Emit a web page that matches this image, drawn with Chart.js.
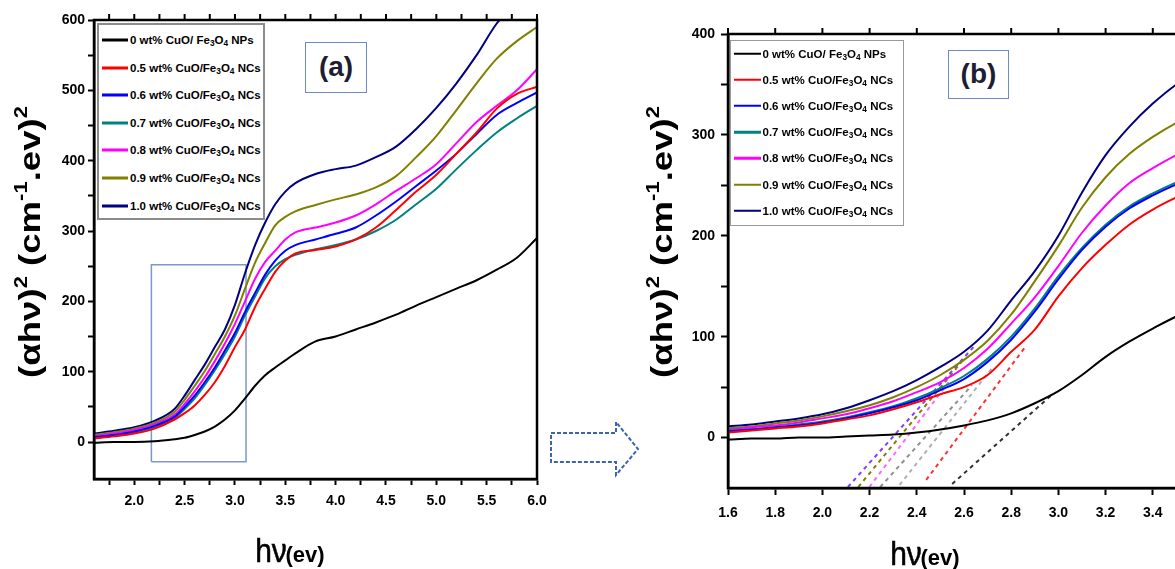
<!DOCTYPE html>
<html>
<head>
<meta charset="utf-8">
<script src="https://cdn.jsdelivr.net/npm/chart.js@4.4.0/dist/chart.umd.min.js"></script>
<style>
  body { margin: 0; width: 1175px; height: 569px; overflow: hidden; position: relative; background: #fff;
         font-family: "Liberation Sans", Arial, sans-serif; }
  canvas { position: absolute; top: 0; }
  .lg { position: absolute; box-sizing: border-box; background: #fff; }
  .row { position: absolute; left: 0; right: 0; height: 14px; }
  .row i { position: absolute; top: 50%; transform: translateY(-50%); }
  .row span { position: absolute; top: 0; line-height: 14px; font-weight: bold; white-space: nowrap; color: #000; }
  .row sub { font-size: 0.72em; vertical-align: -2px; line-height: 0; }
  .tag { position: absolute; box-sizing: border-box; border: 1.5px solid #6d8cc4; text-align: center;
         font-weight: bold; color: #1d1d33; background: #fff; }
  .yt { position: absolute; width: 400px; height: 40px; line-height: 40px; text-align: center; font-weight: bold;
        font-size: 30px; white-space: nowrap; transform: rotate(-90deg) scaleX(1.22); color: #000; }
  .yt sup { font-size: 0.6em; vertical-align: 0.75em; line-height: 0; }
  .xt { position: absolute; width: 200px; height: 40px; line-height: 40px; text-align: center; white-space: nowrap; color: #000; }
  .xt b { font-size: 22px; }
  .xt em { font-style: normal; font-size: 34px; display: inline-block; transform: scaleX(0.88); margin-right: -4px; -webkit-text-stroke: 0.6px #000; }
</style>
</head>
<body>
<canvas id="ca" width="560" height="569" style="left:0"></canvas>
<canvas id="cb" width="600" height="569" style="left:620px"></canvas>

<div class="yt" style="left:-170px; top:222px">(αhν)<sup>2</sup> (cm<sup>-1</sup>.ev)<sup>2</sup></div>
<div class="yt" style="left:462px; top:222px">(αhν)<sup>2</sup> (cm<sup>-1</sup>.ev)<sup>2</sup></div>
<div class="xt" style="left:189px; top:530px"><em>hν</em><b>(ev)</b></div>
<div class="xt" style="left:824px; top:533px"><em>hν</em><b>(ev)</b></div>
<div class="tag" style="left:305px; top:42px; width:62px; height:51px; font-size:28px; line-height:47px">(a)</div>
<div class="tag" style="left:948px; top:50px; width:61px; height:49px; font-size:28px; line-height:45px">(b)</div>

<svg width="1175" height="569" style="position:absolute; left:0; top:0; pointer-events:none">
  <path d="M551,433 L616,433 L616,422 L638,449 L616,475 L616,462 L551,462 Z"
        fill="none" stroke="#3b63b0" stroke-width="2" stroke-dasharray="4 2"/>
</svg>

<script>
// series names and colours (same order in both panels)
const seriesNames = [
  '0 wt% CuO/ Fe3O4 NPs',
  '0.5 wt% CuO/Fe3O4 NCs',
  '0.6 wt% CuO/Fe3O4 NCs',
  '0.7 wt% CuO/Fe3O4 NCs',
  '0.8 wt% CuO/Fe3O4 NCs',
  '0.9 wt% CuO/Fe3O4 NCs',
  '1.0 wt% CuO/Fe3O4 NCs'
];
const seriesColors = ['#000000', '#ff0000', '#0000ff', '#008080', '#ff00ff', '#808000', '#000080'];

// panel (a): full range
const xA = [1.6, 1.8, 2.0, 2.2, 2.4, 2.5, 2.6, 2.7, 2.8, 2.9, 3.0, 3.1, 3.2, 3.3, 3.4, 3.5, 3.6, 3.8, 4.0, 4.2, 4.4, 4.6, 4.8, 5.0, 5.2, 5.4, 5.6, 5.8, 6.0];
const blackA = [-1, 0, 0, 1, 4, 6, 10, 15, 22, 32, 45, 62, 80, 95, 106, 116, 126, 143, 150, 160, 170, 181, 194, 206, 218, 230, 245, 262, 290];
const redA = [5, 8, 12, 19, 32, 41, 52, 67, 85, 108, 135, 160, 192, 218, 242, 258, 268, 273, 278, 288, 305, 330, 356, 380, 410, 440, 474, 495, 505];
const blueA = [7, 10, 15, 23, 36, 50, 66, 85, 106, 130, 155, 185, 212, 238, 258, 272, 280, 288, 296, 305, 322, 342, 364, 386, 410, 438, 465, 482, 497];
const tealA = [6, 9, 14, 21, 34, 47, 62, 81, 102, 125, 150, 180, 207, 233, 250, 260, 266, 274, 280, 288, 300, 316, 338, 360, 388, 415, 440, 460, 478];
const magentaA = [8, 12, 17, 25, 39, 54, 72, 92, 115, 140, 168, 200, 232, 256, 272, 288, 298, 305, 312, 322, 338, 357, 375, 395, 425, 455, 478, 500, 530];
const oliveA = [10, 14, 19, 27, 43, 60, 80, 101, 125, 150, 180, 218, 255, 283, 308, 320, 328, 337, 345, 352, 362, 378, 405, 435, 472, 510, 545, 570, 590];
const navyA = [12, 16, 21, 30, 47, 66, 88, 110, 135, 160, 195, 240, 280, 312, 338, 356, 368, 381, 388, 393, 405, 420, 445, 475, 510, 550, 595, 625, 655];
// zoom rectangle drawn in panel (a)
const boxX = [2.17, 3.11];
const boxY = [-28, 252];

const xMajorA = [2.0, 2.5, 3.0, 3.5, 4.0, 4.5, 5.0, 5.5, 6.0];
const xMinorA = [1.75, 2.25, 2.75, 3.25, 3.75, 4.25, 4.75, 5.25, 5.75];
const yMajorA = [0, 100, 200, 300, 400, 500, 600];
const yMinorA = [50, 150, 250, 350, 450, 550];

// panel (b): zoom on the absorption edge
const xB = [1.6, 1.7, 1.8, 1.9, 2.0, 2.1, 2.2, 2.3, 2.4, 2.5, 2.6, 2.7, 2.8, 2.9, 3.0, 3.1, 3.2, 3.3, 3.4, 3.5, 3.6];
const blackB = [-2, -1, -1, 0, 0, 1, 2, 3, 5, 8, 12, 17, 24, 34, 46, 62, 80, 95, 108, 120, 129];
const redB = [5, 7, 9, 11, 14, 18, 22, 28, 35, 43, 50, 62, 85, 107, 140, 168, 191, 211, 226, 238, 248];
const blueB = [6, 8, 10, 12, 15, 19, 24, 30, 37, 47, 58, 75, 97, 125, 157, 186, 209, 227, 240, 251, 260];
const tealB = [7, 8, 10, 13, 16, 20, 25, 31, 39, 49, 61, 78, 100, 128, 160, 188, 211, 229, 242, 253, 262];
const magentaB = [8, 10, 12, 15, 19, 23, 29, 36, 45, 55, 69, 88, 113, 139, 170, 203, 230, 252, 267, 280, 290];
const oliveB = [9, 11, 14, 17, 21, 26, 32, 40, 50, 62, 77, 96, 122, 155, 190, 228, 258, 281, 298, 312, 323];
const navyB = [11, 13, 16, 19, 23, 29, 37, 46, 57, 70, 85, 106, 136, 165, 200, 243, 280, 308, 331, 350, 364];

// extrapolated tangent lines (dashed) in panel (b)
const tanColors = ['#8040ff', '#808000', '#ff66ff', '#909090', '#b0b0b0', '#ff3030', '#303030'];
const tanX1 = [2.108, 2.152, 2.199, 2.245, 2.327, 2.44, 2.55];
const tanY1 = [-49, -49, -49, -49, -47, -42, -46];
const tanX2 = [2.645, 2.60, 2.535, 2.634, 2.716, 2.86, 2.97];
const tanY2 = [91, 78, 55, 52, 68, 90, 42];

const xMajorB = [1.6, 1.8, 2.0, 2.2, 2.4, 2.6, 2.8, 3.0, 3.2, 3.4, 3.6];
const yMajorB = [0, 100, 200, 300, 400];
const yMinorB = [50, 150, 250, 350];

const tickFont = { family: 'Liberation Sans', size: 14, weight: 'bold' };

function pts(xs, ys) {
  return xs.map((x, i) => ({ x: x, y: ys[i] }));
}

function curve(ys, xs, i) {
  return {
    data: pts(xs, ys),
    borderColor: seriesColors[i],
    borderWidth: 2,
    pointRadius: 0,
    cubicInterpolationMode: 'monotone'
  };
}

function axisX(min, max, major, minor, height, pad, tl) {
  return {
    type: 'linear', min: min, max: max,
    afterBuildTicks: s => { s.ticks = major.concat(minor).sort((a, b) => a - b).map(v => ({ value: v })); },
    afterFit: s => { s.height = height; },
    ticks: { autoSkip: false, maxRotation: 0, padding: pad, color: '#000', font: tickFont,
             callback: v => major.includes(v) ? v.toFixed(1) : '' },
    grid: { drawOnChartArea: false, tickLength: tl, tickWidth: 2, tickColor: '#000' },
    border: { color: '#000', width: 2.5 }
  };
}

function axisY(min, max, major, minor, width, pad, tl) {
  return {
    type: 'linear', min: min, max: max,
    afterBuildTicks: s => { s.ticks = major.concat(minor).sort((a, b) => a - b).map(v => ({ value: v })); },
    afterFit: s => { s.width = width; },
    ticks: { autoSkip: false, padding: pad, color: '#000', font: tickFont,
             callback: v => major.includes(v) ? String(v) : '' },
    grid: { drawOnChartArea: false, tickLength: tl, tickWidth: 2, tickColor: '#000' },
    border: { color: '#000', width: 2.5 }
  };
}

// box round the plot plus tick marks on the top axis
const frame = {
  id: 'frame',
  afterDatasetsDraw(chart) {
    const ctx = chart.ctx, a = chart.chartArea, x = chart.scales.x;
    ctx.save();
    ctx.strokeStyle = '#000';
    ctx.lineWidth = 2.5;
    ctx.strokeRect(a.left, a.top, a.right - a.left, a.bottom - a.top);
    ctx.lineWidth = 2;
    x.ticks.forEach(t => {
      const px = x.getPixelForValue(t.value);
      ctx.beginPath();
      ctx.moveTo(px, a.top);
      ctx.lineTo(px, a.top - 6);
      ctx.stroke();
    });
    ctx.restore();
  }
};

const common = {
  responsive: false,
  animation: false,
  plugins: { legend: { display: false }, tooltip: { enabled: false } }
};

const setA = [blackA, redA, blueA, tealA, magentaA, oliveA, navyA];
const dsA = setA.map((ys, i) => curve(ys, xA, i));
dsA.push({
  data: pts([boxX[0], boxX[1], boxX[1], boxX[0], boxX[0]], [boxY[0], boxY[0], boxY[1], boxY[1], boxY[0]]),
  borderColor: '#7d97c8', borderWidth: 1.5, pointRadius: 0
});

new Chart(document.getElementById('ca'), {
  type: 'line',
  data: { datasets: dsA },
  options: Object.assign({}, common, {
    layout: { padding: { top: 20, right: 23, left: 0, bottom: 0 } },
    scales: {
      x: axisX(1.6, 6.0, xMajorA, xMinorA, 90, 8, 6),
      y: axisY(-52.6, 600, yMajorA, yMinorA, 94, 3, 6)
    }
  }),
  plugins: [frame]
});

const setB = [blackB, redB, blueB, tealB, magentaB, oliveB, navyB];
const dsB = setB.map((ys, i) => curve(ys, xB, i));
tanColors.forEach((c, i) => {
  dsB.push({
    data: pts([tanX1[i], tanX2[i]], [tanY1[i], tanY2[i]]),
    borderColor: c, borderWidth: 2, borderDash: [4, 4], pointRadius: 0
  });
});

new Chart(document.getElementById('cb'), {
  type: 'line',
  data: { datasets: dsB },
  options: Object.assign({}, common, {
    layout: { padding: { top: 34, right: 20, left: 0, bottom: 0 } },
    scales: {
      x: axisX(1.6, 3.6, xMajorB, [], 81, 10, 7),
      y: axisY(-50, 400, yMajorB, yMinorB, 108, 6, 7)
    }
  }),
  plugins: [frame]
});

// legends inside the plots
function legend(left, top, w, h, border, y0, dy, lineX, lineW, lineH, textX, fontSize) {
  const box = document.createElement('div');
  box.className = 'lg';
  Object.assign(box.style, { left: left + 'px', top: top + 'px', width: w + 'px', height: h + 'px', border: border });
  seriesNames.forEach((name, i) => {
    const row = document.createElement('div');
    row.className = 'row';
    row.style.top = (y0 + i * dy - 7) + 'px';
    const ln = document.createElement('i');
    Object.assign(ln.style, { left: lineX + 'px', width: lineW + 'px', height: lineH + 'px', background: seriesColors[i] });
    const tx = document.createElement('span');
    tx.style.left = textX + 'px';
    tx.style.fontSize = fontSize + 'px';
    tx.innerHTML = name.replace('Fe3O4', 'Fe<sub>3</sub>O<sub>4</sub>');
    row.append(ln, tx);
    box.appendChild(row);
  });
  document.body.appendChild(box);
}

legend(97, 23, 168, 197, '2px solid #8c8c8c', 15, 27.6, 3, 26, 3, 31, 11.5);
legend(730, 40, 174, 186, '1.5px solid #9a9a9a', 12.5, 26.2, 2.5, 27, 2.5, 31.5, 11.5);
</script>
</body>
</html>
